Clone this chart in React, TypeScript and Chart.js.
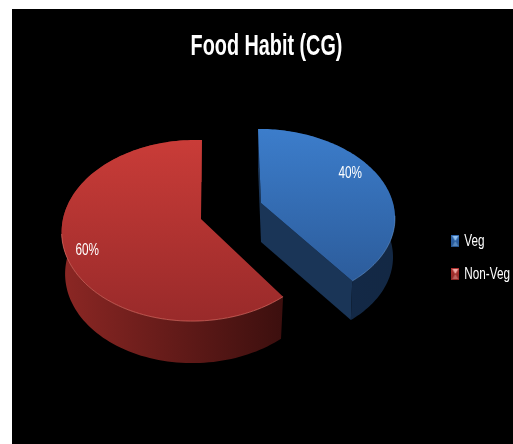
import React, { useEffect, useRef } from "react";
import { Chart, registerables } from "chart.js";

Chart.register(...registerables);

const categories = ["Veg", "Non-Veg"];
const shares = [40, 60];
const baseColors = ["#3a76c0", "#bf3733"];
const chartTitle = "Food Habit (CG)";
const textFont = "'Liberation Sans', Arial, sans-serif";
const boldSqueeze = 0.66;
const regularSqueeze = 0.69;

// Perspective view of each slice on the canvas, one per category.
const sliceViews = [
  { ox: 249, oy: 194, a: 132, b: -3.4, h: 85, g: 0, p: 0.147, q: 0, depth: 39, shrink: 0.985 },
  { ox: 189, oy: 210, a: 131, b: 1.1, h: 89, g: 0, p: 0.127, q: 0.051, depth: 42, shrink: 0.975 },
];
const faceStops = [
  ["#3c7dcb", "#2c5c9b"],
  ["#c93c38", "#992a2a"],
];
const wallStops = [
  ["#132a4a", "#132844"],
  ["#8c2724", "#3c0f0e"],
];
const cutColors = ["#1a3557", "#3c0f0e"];
const rimColors = ["rgba(120,170,230,0.45)", "rgba(235,120,110,0.6)"];
const swatchStops = [
  ["#2f66ad", "#8fc0f0", "#27558f"],
  ["#b03230", "#f0a8a4", "#8e2826"],
];
// Where the percentage sits in each slice: degrees clockwise from the top, fraction of radius.
const labelSpots = [
  { deg: 63, r: 0.81 },
  { deg: 248, r: 0.858 },
];

type View = (typeof sliceViews)[number];

function project(v: View, X: number, Y: number) {
  const den = 1 + v.p * Y + v.q * X;
  return { x: v.ox + (v.a * X + v.b * Y) / den, y: v.oy - (v.h * Y + v.g * X) / den };
}

function floorView(v: View): View {
  return { ...v, oy: v.oy + v.depth, a: v.a * v.shrink };
}

function rim(v: View, start: number, end: number) {
  const pts = [];
  const steps = 120;
  for (let i = 0; i <= steps; i++) {
    const t = start + ((end - start) * i) / steps;
    pts.push(project(v, Math.cos(t), -Math.sin(t)));
  }
  return pts;
}

function trace(ctx: CanvasRenderingContext2D, pts: { x: number; y: number }[]) {
  ctx.beginPath();
  pts.forEach((p, i) => (i ? ctx.lineTo(p.x, p.y) : ctx.moveTo(p.x, p.y)));
  ctx.closePath();
}

// Small bevelled legend marker with a bright hourglass through its middle.
function makeSwatch(stops: string[]) {
  const c = document.createElement("canvas");
  c.width = 8;
  c.height = 12;
  const g = c.getContext("2d")!;
  const grad = g.createLinearGradient(0, 0, 0, 12);
  grad.addColorStop(0, stops[0]);
  grad.addColorStop(1, stops[2]);
  g.fillStyle = grad;
  g.fillRect(0, 0, 8, 12);
  g.fillStyle = stops[1];
  g.beginPath();
  g.moveTo(1, 1);
  g.lineTo(7, 1);
  g.lineTo(4, 6);
  g.closePath();
  g.fill();
  g.globalAlpha = 0.45;
  g.beginPath();
  g.moveTo(4, 6);
  g.lineTo(7, 11);
  g.lineTo(1, 11);
  g.closePath();
  g.fill();
  return c;
}

// All text on this chart is set in a condensed width, for layout as well as for drawing.
function condenseText(ctx: CanvasRenderingContext2D) {
  const fill = ctx.fillText.bind(ctx);
  const measure = ctx.measureText.bind(ctx);
  const squeeze = () => (ctx.font.includes("bold") ? boldSqueeze : regularSqueeze);
  ctx.fillText = (text: string, x: number, y: number) => {
    fill(text, x, y, measure(text).width * squeeze());
  };
  ctx.measureText = ((text: string) => ({ width: measure(text).width * squeeze() })) as any;
}

const tiltedPie = {
  id: "tiltedPie",
  beforeDatasetDraw(chart: any) {
    const ctx: CanvasRenderingContext2D = chart.ctx;
    const arcs = chart.getDatasetMeta(0).data;
    ctx.save();
    arcs.forEach((arc: any, i: number) => {
      const view = sliceViews[i];
      const low = floorView(view);
      const top = rim(view, arc.startAngle, arc.endAngle);
      const bottom = rim(low, arc.startAngle, arc.endAngle);
      const apex = project(view, 0, 0);
      const apexLow = project(low, 0, 0);

      // Cut faces lie behind the outer wall.
      ctx.fillStyle = cutColors[i];
      if (i === 0) {
        trace(ctx, [apex, top[0], bottom[0], apexLow]);
        ctx.fill();
        trace(ctx, [apex, top[top.length - 1], bottom[bottom.length - 1], apexLow]);
        ctx.fill();
      }

      // Outer wall between the upper and lower rims.
      const xs = top.map((p) => p.x);
      const wall = ctx.createLinearGradient(Math.min(...xs), 0, Math.max(...xs), 0);
      wall.addColorStop(0, wallStops[i][0]);
      wall.addColorStop(1, wallStops[i][1]);
      ctx.fillStyle = wall;
      trace(ctx, [...top, ...bottom.slice().reverse()]);
      ctx.fill();

      // Upper face.
      const ys = top.map((p) => p.y);
      const face = ctx.createLinearGradient(0, Math.min(...ys), 0, Math.max(...ys));
      face.addColorStop(0, faceStops[i][0]);
      face.addColorStop(1, faceStops[i][1]);
      ctx.fillStyle = face;
      trace(ctx, [apex, ...top]);
      ctx.fill();

      // Light catching the front edge of the upper face.
      ctx.strokeStyle = rimColors[i];
      ctx.lineWidth = 1;
      ctx.beginPath();
      top.forEach((p) => {
        if (p.y > apex.y + 12) ctx.lineTo(p.x, p.y);
      });
      ctx.stroke();
    });
    ctx.restore();
    return false;
  },
  afterDatasetsDraw(chart: any) {
    const ctx: CanvasRenderingContext2D = chart.ctx;
    const values: number[] = chart.data.datasets[0].data;
    const total = values.reduce((s, n) => s + n, 0);
    ctx.save();
    ctx.fillStyle = "#ffffff";
    ctx.font = `17px ${textFont}`;
    ctx.textAlign = "center";
    ctx.textBaseline = "middle";
    values.forEach((value, i) => {
      const spot = labelSpots[i];
      const rad = (spot.deg * Math.PI) / 180;
      const pos = project(sliceViews[i], spot.r * Math.sin(rad), spot.r * Math.cos(rad));
      ctx.fillText(`${Math.round((value / total) * 100)}%`, pos.x, pos.y);
    });
    ctx.restore();
  },
};

export default function App() {
  const ref = useRef<HTMLCanvasElement>(null);
  useEffect(() => {
    condenseText(ref.current!.getContext("2d")!);
    const swatches = swatchStops.map(makeSwatch);
    const chart = new Chart(ref.current!, {
      type: "pie",
      data: {
        labels: categories,
        datasets: [{ data: shares, backgroundColor: baseColors, borderWidth: 0 }],
      },
      options: {
        responsive: false,
        animation: false,
        layout: { padding: { left: 1, right: -7 } },
        plugins: {
          tooltip: { enabled: false },
          title: {
            display: true,
            text: chartTitle,
            color: "#ffffff",
            font: { family: textFont, size: 30, weight: "bold" },
            padding: { top: 20, bottom: 6 },
          },
          legend: {
            position: "right",
            fullSize: false,
            labels: {
              color: "#ffffff",
              font: { family: textFont, size: 17 },
              usePointStyle: true,
              boxWidth: 1,
              padding: 16,
              generateLabels: () =>
                categories.map((text, i) => ({
                  text,
                  fontColor: "#ffffff",
                  fillStyle: baseColors[i],
                  strokeStyle: baseColors[i],
                  lineWidth: 0,
                  pointStyle: swatches[i],
                  index: i,
                })),
            },
          },
        },
      },
      plugins: [tiltedPie as any],
    });
    return () => chart.destroy();
  }, []);
  return (
    <div style={{ position: "absolute", left: 12, top: 9, width: 501, height: 435, background: "#000" }}>
      <canvas ref={ref} width={501} height={435} style={{ display: "block" }} />
    </div>
  );
}
